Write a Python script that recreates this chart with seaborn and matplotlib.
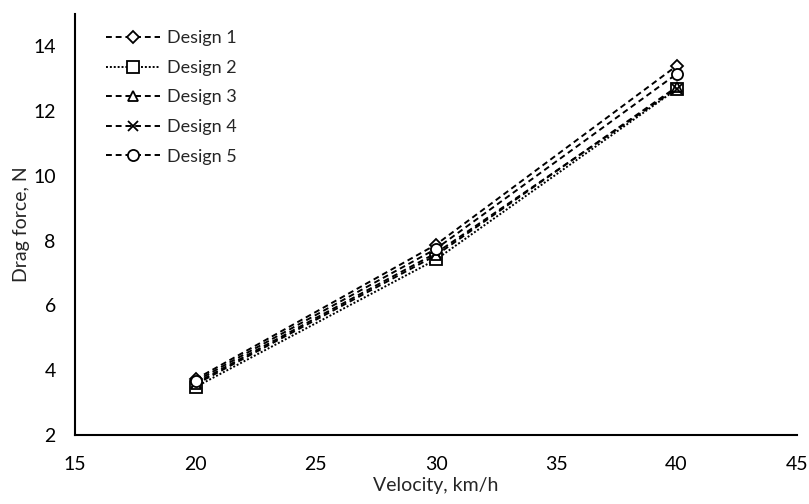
import matplotlib
matplotlib.use("Agg")
import matplotlib.pyplot as plt
import seaborn as sns
import pandas as pd

# Drag force vs velocity for five designs
velocity = [20, 30, 40]
design_1 = [3.72, 7.88, 13.40]
design_2 = [3.48, 7.42, 12.68]
design_3 = [3.56, 7.55, 12.75]
design_4 = [3.60, 7.62, 12.70]
design_5 = [3.66, 7.75, 13.15]

labels = ["Design 1", "Design 2", "Design 3", "Design 4", "Design 5"]
series = [design_1, design_2, design_3, design_4, design_5]
markers = ["D", "s", "^", "x", "o"]
msizes = [6, 8, 7, 7, 8]
styles = [(0, (3, 2)), (0, (1, 1)), (0, (3, 2)), (0, (3, 2)), (0, (3, 2))]

sns.set_style("white")
plt.rcParams["font.family"] = ["Lato", "DejaVu Sans"]

fig, ax = plt.subplots(figsize=(8.09, 5.04), dpi=100)
fig.subplots_adjust(left=0.093, right=0.985, bottom=0.137, top=0.972)

for lab, vals, m, ms, ls in zip(labels, series, markers, msizes, styles):
    df = pd.DataFrame({"Velocity": velocity, "Drag": vals})
    sns.lineplot(data=df, x="Velocity", y="Drag", ax=ax, color="black",
                 linestyle=ls, linewidth=1.4, marker=m, markersize=ms,
                 markerfacecolor="white", markeredgecolor="black",
                 markeredgewidth=1.3, label=lab)

ax.set_xlim(15, 45)
ax.set_ylim(2, 15)
ax.set_xticks(range(15, 46, 5))
ax.set_yticks(range(2, 15, 2))
ax.set_xlabel("Velocity, km/h", fontsize=14, labelpad=3)
ax.set_ylabel("Drag force, N", fontsize=14, labelpad=2)
ax.tick_params(axis="both", direction="in", length=6, width=1.2,
               labelsize=14, colors="black")
ax.tick_params(axis="x", pad=15)
ax.tick_params(axis="y", pad=14)
for side in ["top", "right"]:
    ax.spines[side].set_visible(False)
for side in ["left", "bottom"]:
    ax.spines[side].set_color("black")
    ax.spines[side].set_linewidth(1.5)

leg = ax.legend(loc="upper left", frameon=False, fontsize=13,
                handlelength=3.0, handletextpad=0.4, labelspacing=0.75,
                bbox_to_anchor=(0.02, 1.0))

fig.savefig("out.png", dpi=100)
